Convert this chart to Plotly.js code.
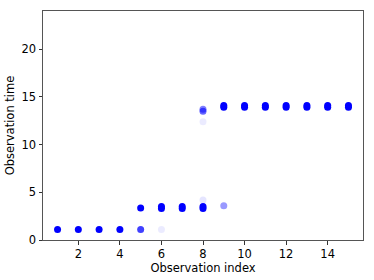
<!DOCTYPE html>
<html><head><meta charset="utf-8">
<script src="https://cdn.plot.ly/plotly-3.0.1.min.js"></script>
<style>html,body{margin:0;padding:0;background:#fff}</style>
</head><body>
<div id="chart" style="width:374px;height:280px"></div>
<script>
const obsIndex = [1,2,3,4, 5,5, 6,6,6, 7,7, 8,8,8,8,8,8, 9,9,9, 10,10, 11,11, 12,12, 13,13, 14,14, 15,15];
const obsTime  = [1.1,1.1,1.1,1.1, 1.1,3.35, 1.1,3.3,3.5, 3.3,3.5, 3.3,3.5,4.2,12.4,13.5,13.7, 3.6,13.9,14.1, 13.9,14.1, 13.9,14.1, 13.9,14.1, 13.9,14.1, 13.9,14.1, 13.9,14.1];
const obsAlpha = [1,1,1,1, 0.75,1, 0.08,1,1, 1,1, 1,1,0.1,0.08,0.6,0.5, 0.4,1,1, 1,1, 1,1, 1,1, 1,1, 1,1, 1,1];
const xTicks = [2,4,6,8,10,12,14];
const yTicks = [0,5,10,15,20];

const font = {family:'DejaVu Sans', size:11.5, color:'#000'};
Plotly.newPlot('chart', [{
  type:'scatter', mode:'markers', x:obsIndex, y:obsTime,
  marker:{color:'rgb(0,0,255)', size:7, opacity:obsAlpha, line:{width:0}},
  hoverinfo:'skip'
}], {
  width:374, height:280,
  margin:{l:43, r:11, t:11, b:40},
  paper_bgcolor:'#fff', plot_bgcolor:'#fff',
  showlegend:false,
  font:font,
  xaxis:{range:[0.3,15.7], tickvals:xTicks, ticks:'outside', ticklen:3.5, tickwidth:0.8, tickcolor:'#000',
    showgrid:false, zeroline:false, showline:true, linecolor:'#555', linewidth:1, mirror:true,
    title:{text:'Observation index', font:font, standoff:1}, tickfont:font},
  yaxis:{range:[0,24], tickvals:yTicks, ticks:'outside', ticklen:3.5, tickwidth:0.8, tickcolor:'#000',
    showgrid:false, zeroline:false, showline:true, linecolor:'#555', linewidth:1, mirror:true,
    title:{text:'Observation time', font:font, standoff:4}, tickfont:font}
}, {displayModeBar:false, staticPlot:true});
</script>
</body></html>
